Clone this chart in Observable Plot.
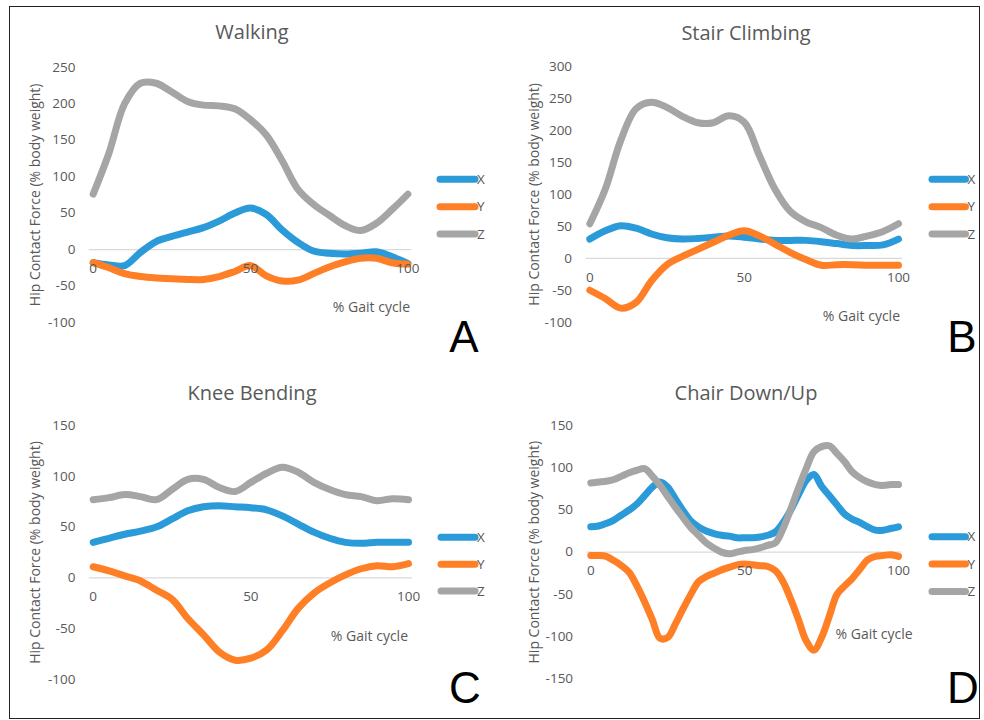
<!DOCTYPE html>
<html><head><meta charset="utf-8">
<script src="https://cdn.jsdelivr.net/npm/d3@7"></script>
<script src="https://cdn.jsdelivr.net/npm/@observablehq/plot@0.6"></script>
<style>
body{margin:0;background:#fff;}
#page{position:relative;width:984px;height:720px;overflow:hidden;font-family:"Open Sans",sans-serif;background:#fff;}
.panel{position:absolute;}
#frame{position:absolute;left:9px;top:6px;width:971px;height:713px;border:1.5px solid #222;box-sizing:border-box;pointer-events:none;}
#overlay{position:absolute;left:0;top:0;}
</style></head><body><div id="page"><div id="frame"></div></div>
<script>
// ---- data ----
const seriesNames = ["X", "Y", "Z"];
const seriesColors = ["#2a9ad8", "#ff7f27", "#a5a5a5"];
const panelTitles = ["Walking", "Stair Climbing", "Knee Bending", "Chair Down/Up"];
const panelLetters = ["A", "B", "C", "D"];
const xTicks = [0, 50, 100];
const yLabel = "Hip Contact Force (% body weight)";
const xLabel = "% Gait cycle";

const gait5 = [0,5,10,15,20,25,30,35,40,45,50,55,60,65,70,75,80,85,90,95,100];
const gait25 = [0,2.5,5,7.5,10,12.5,15,17.5,20,22.5,25,27.5,30,32.5,35,37.5,40,42.5,45,47.5,50,52.5,55,57.5,60,62.5,65,67.5,70,72.5,75,77.5,80,82.5,85,87.5,90,92.5,95,97.5,100];

const walkingX = [-18,-21,-22,-4,11,18,24,30,39,50,57,48,27,10,-2,-5,-6,-5,-3,-10,-19];
const walkingY = [-18,-25,-33,-37,-39,-40,-41,-41,-37,-30,-22,-36,-43,-42,-33,-24,-17,-12,-12,-18,-20];
const walkingZ = [76,132,200,228,228,216,203,198,197,193,178,157,122,83,62,47,33,26,36,55,76];
const walkingTicks = [-100,-50,0,50,100,150,200,250];

const stairX = [30,43,51,47,38,32,30,31,33,35,33,30,28,28,28,26,23,20,20,21,30];
const stairY = [-50,-63,-78,-69,-35,-10,3,14,25,36,43,35,22,9,-2,-11,-10,-10,-11,-11,-11];
const stairZ = [54,108,184,234,244,236,222,212,212,223,213,160,108,73,57,48,36,30,35,42,54];
const stairTicks = [-100,-50,0,50,100,150,200,250,300];

const kneeX = [35,39,43,46,50,58,66,70,71,70,69,67,61,53,45,39,35,34,35,35,35];
const kneeY = [11,7,2,-3,-12,-21,-40,-56,-73,-81,-79,-71,-52,-30,-15,-5,3,9,12,11,14];
const kneeZ = [77,79,82,80,77,87,97,97,89,85,94,103,109,104,94,87,82,80,76,78,77];
const kneeTicks = [-100,-50,0,50,100,150];

const chairX = [30,31,34,38,44,50,57,67,77,83,77,63,49,37,30,25,22,20,19,17,17,17,18,20,24,35,50,68,85,92,78,67,56,45,39,35,30,26,26,28,30];
const chairY = [-4,-4,-5,-10,-16,-24,-40,-59,-80,-102,-101,-85,-67,-50,-35,-29,-25,-21,-18,-15,-14,-15,-16,-17,-22,-35,-56,-80,-105,-116,-101,-76,-50,-40,-31,-20,-9,-5,-4,-3,-5];
const chairZ = [82,83,84,86,90,94,97,99,90,79,66,53,41,29,20,11,5,0,-2,0,2,3,5,8,11,28,51,76,99,119,125,126,117,107,95,88,83,80,79,80,80];
const chairTicks = [-150,-100,-50,0,50,100,150];

// ---- layout (presentation only) ----
const panels = [
  {gait: gait5, series: [walkingX, walkingY, walkingZ], ticks: walkingTicks, domain: [-100, 250],
   left: 0, top: 0, mL: 88.9, mR: 80.8, mT: 66.7, mB: 38, labelDx: -54,
   titleX: 252, titleY: 39, legX1: 440, legX2: 475, legYs: [179.3, 206.7, 234], letX: 464, letY: 352, xlX: 410, xlY: 312},
  {gait: gait5, series: [stairX, stairY, stairZ], ticks: stairTicks, domain: [-100, 300],
   left: 492, top: 0, mL: 93.6, mR: 82.3, mT: 66, mB: 38.3, labelDx: -52,
   titleX: 746, titleY: 39.5, legX1: 932, legX2: 965.5, legYs: [179.3, 206.7, 234], letX: 962, letY: 352, xlX: 900, xlY: 320.5},
  {gait: gait5, series: [kneeX, kneeY, kneeZ], ticks: kneeTicks, domain: [-100, 150],
   left: 0, top: 360, mL: 88.9, mR: 80.2, mT: 65, mB: 41, labelDx: -54,
   titleX: 252, titleY: 399.5, legX1: 441, legX2: 475, legYs: [537.3, 564.3, 591], letX: 465, letY: 703, xlX: 408, xlY: 640.5},
  {gait: gait25, series: [chairX, chairY, chairZ], ticks: chairTicks, domain: [-150, 150],
   left: 492, top: 360, mL: 94.6, mR: 82.3, mT: 65, mB: 41.7, labelDx: -53,
   titleX: 746, titleY: 399.5, legX1: 932, legX2: 965.5, legYs: [536.7, 564, 591.5], letX: 963, letY: 703, xlX: 912.7, xlY: 639}
];

const page = document.getElementById("page");
const textColor = "#595959";

panels.forEach((p) => {
  const rows = [];
  p.series.forEach((vals, si) => {
    vals.forEach((v, i) => rows.push({x: p.gait[i], v, s: seriesNames[si]}));
  });
  const chart = Plot.plot({
    width: 492, height: 360,
    marginLeft: p.mL, marginRight: p.mR, marginTop: p.mT, marginBottom: p.mB,
    x: {domain: [-1.2, 101.2], axis: null},
    y: {domain: p.domain, ticks: p.ticks, tickSize: 0, tickPadding: 14, label: null, tickFormat: d => String(d)},
    color: {domain: seriesNames, range: seriesColors},
    style: {fontFamily: "'Open Sans', sans-serif", fontSize: "13.5px", color: textColor, background: "transparent", overflow: "visible"},
    marks: [
      Plot.ruleY([0], {stroke: "#d9d9d9", strokeWidth: 1.3}),
      Plot.line(rows, {x: "x", y: "v", z: "s", stroke: "s", strokeWidth: 7, curve: "catmull-rom", strokeLinejoin: "round", strokeLinecap: "round"}),
      Plot.text(xTicks, {x: d => d, y: 0, dy: 19, text: d => String(d), fill: textColor, fontSize: 13.5}),
      Plot.text([yLabel], {frameAnchor: "left", textAnchor: "middle", rotate: -90, dx: p.labelDx, text: d => d, fill: textColor, fontSize: 14})
    ]
  });
  const div = document.createElement("div");
  div.className = "panel";
  div.style.left = p.left + "px";
  div.style.top = p.top + "px";
  div.appendChild(chart);
  page.appendChild(div);
});

// overlay: titles, legends, panel letters, x-axis titles
const svg = d3.select(page).append("svg").attr("id", "overlay").attr("width", 984).attr("height", 720)
  .style("font-family", "'Open Sans', sans-serif");
panels.forEach((p, pi) => {
  svg.append("text").attr("x", p.titleX).attr("y", p.titleY).attr("text-anchor", "middle")
    .attr("font-size", 20).attr("fill", textColor).text(panelTitles[pi]);
  svg.append("text").attr("x", p.xlX).attr("y", p.xlY).attr("text-anchor", "end")
    .attr("font-size", 14).attr("fill", textColor).text(xLabel);
  svg.append("text").attr("x", p.letX).attr("y", p.letY).attr("text-anchor", "middle")
    .attr("font-size", 44).attr("fill", "#000").style("font-family", "'Liberation Sans', Arial, sans-serif").text(panelLetters[pi]);
  seriesNames.forEach((name, si) => {
    const y = p.legYs[si];
    svg.append("line").attr("x1", p.legX1).attr("x2", p.legX2).attr("y1", y).attr("y2", y)
      .attr("stroke", seriesColors[si]).attr("stroke-width", 7).attr("stroke-linecap", "round");
    svg.append("text").attr("x", p.legX2 + 2).attr("y", y).attr("dy", "0.35em")
      .attr("font-size", 13.5).attr("fill", textColor).text(name);
  });
});
</script></body></html>
